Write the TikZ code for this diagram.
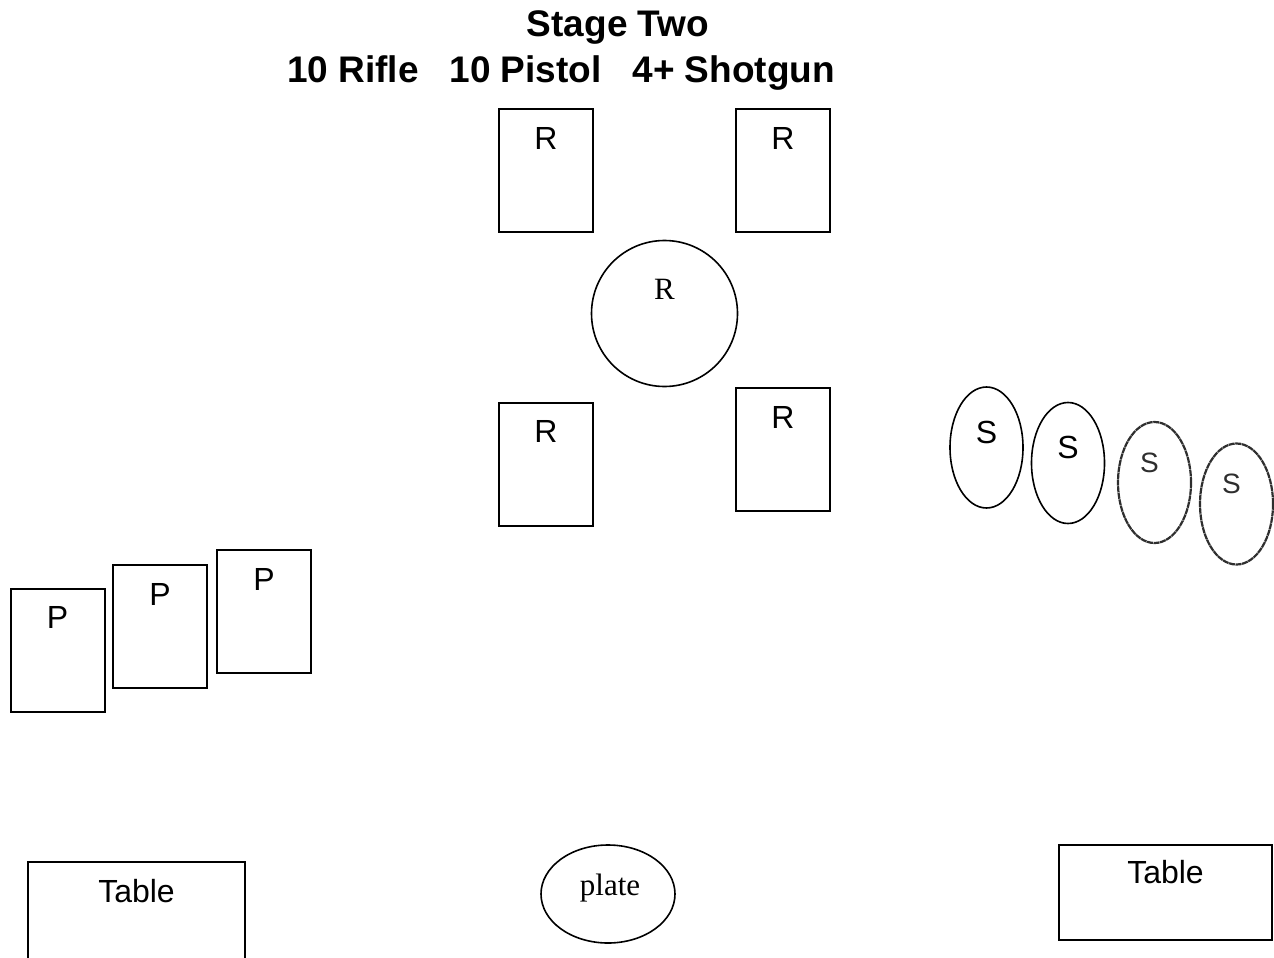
\documentclass[tikz,border=0pt]{standalone}
\usepackage{fontspec}
\setmainfont{Liberation Sans}
\newfontfamily\serifface{Liberation Serif}
\usepackage{xcolor}
\usepackage{tikz}
\usetikzlibrary{calc,shapes.geometric}
\definecolor{ink}{HTML}{000000}
\definecolor{faded}{HTML}{2E2E2E}
\tikzset{
  target/.style={draw=ink, line width=2pt, rectangle, inner sep=0pt, minimum width=94pt, minimum height=123pt},
  steel/.style={draw=ink, line width=1.6pt, ellipse, inner sep=0pt, minimum width=73pt, minimum height=121pt},
  worn/.style={steel, draw=faded, line width=2.2pt, dash pattern=on 6pt off 0.6pt},
  popper/.style={draw=ink, line width=1.6pt, circle, inner sep=0pt, minimum size=146pt},
  tbl/.style={draw=ink, line width=2pt, rectangle, inner sep=0pt},
  lab/.style={text=ink, font=\fontsize{32}{36}\selectfont, anchor=base, inner sep=0pt},
  labs/.style={text=ink, font=\serifface\fontsize{31}{35}\selectfont, anchor=base, inner sep=0pt},
  labw/.style={text=faded, font=\fontsize{28}{32}\selectfont, anchor=center, inner sep=0pt},
  head/.style={text=ink, font=\bfseries\fontsize{37}{42}\selectfont, anchor=base, inner sep=0pt},
}

\begin{document}
\begin{tikzpicture}[x=1pt, y=-1pt]
  \useasboundingbox (0,0) rectangle (1274,958);
  % heading
  \node[head] (stage) at (618,37) {Stage Two};
  \node[head] (counts) at (561,82) {10 Rifle\ \ \ 10 Pistol\ \ \ 4+ Shotgun};
  % rifle targets
  \foreach \N/\x/\y in {rTL/546/170.5, rTR/783/170.5, rBL/546/464, rBR/783/449.5}{
    \node[target] (\N) at (\x,\y) {};
    \node[lab] at ($(\N.north)+(0,41)$) {R};
  }
  \node[popper] (rMid) at (664.5,313.5) {};
  \node[labs] at ($(rMid.north)+(0,60)$) {R};
  % pistol targets
  \foreach \N/\x/\y in {p1/57.5/650, p2/160/626.5, p3/264/611.5}{
    \node[target] (\N) at (\x,\y) {};
    \node[lab] at ($(\N.north)+(0,41)$) {P};
  }
  % shotgun targets
  \foreach \N/\x/\y in {s1/986.5/447.5, s2/1068/463}{
    \node[steel] (\N) at (\x,\y) {};
    \node[lab] at ($(\N.north)+(0,57)$) {S};
  }
  \foreach \N/\x/\y/\ly in {s3/1154.5/482.5/463, s4/1236.5/504/484}{
    \node[worn] (\N) at (\x,\y) {};
    \node[labw] at (\x-5,\ly) {S};
  }
  % tables and plate
  \node[tbl, minimum width=217pt, minimum height=100pt] (tableL) at (136.5,912) {};
  \node[lab] at ($(tableL.north)+(0,41)$) {Table};
  \node[tbl, minimum width=213pt, minimum height=95pt] (tableR) at (1165.5,892.5) {};
  \node[lab] at ($(tableR.north)+(0,39)$) {Table};
  \node[steel, minimum width=134pt, minimum height=98pt] (plate) at (608,894) {};
  \node[labs] at (610,895) {plate};
\end{tikzpicture}
\end{document}
